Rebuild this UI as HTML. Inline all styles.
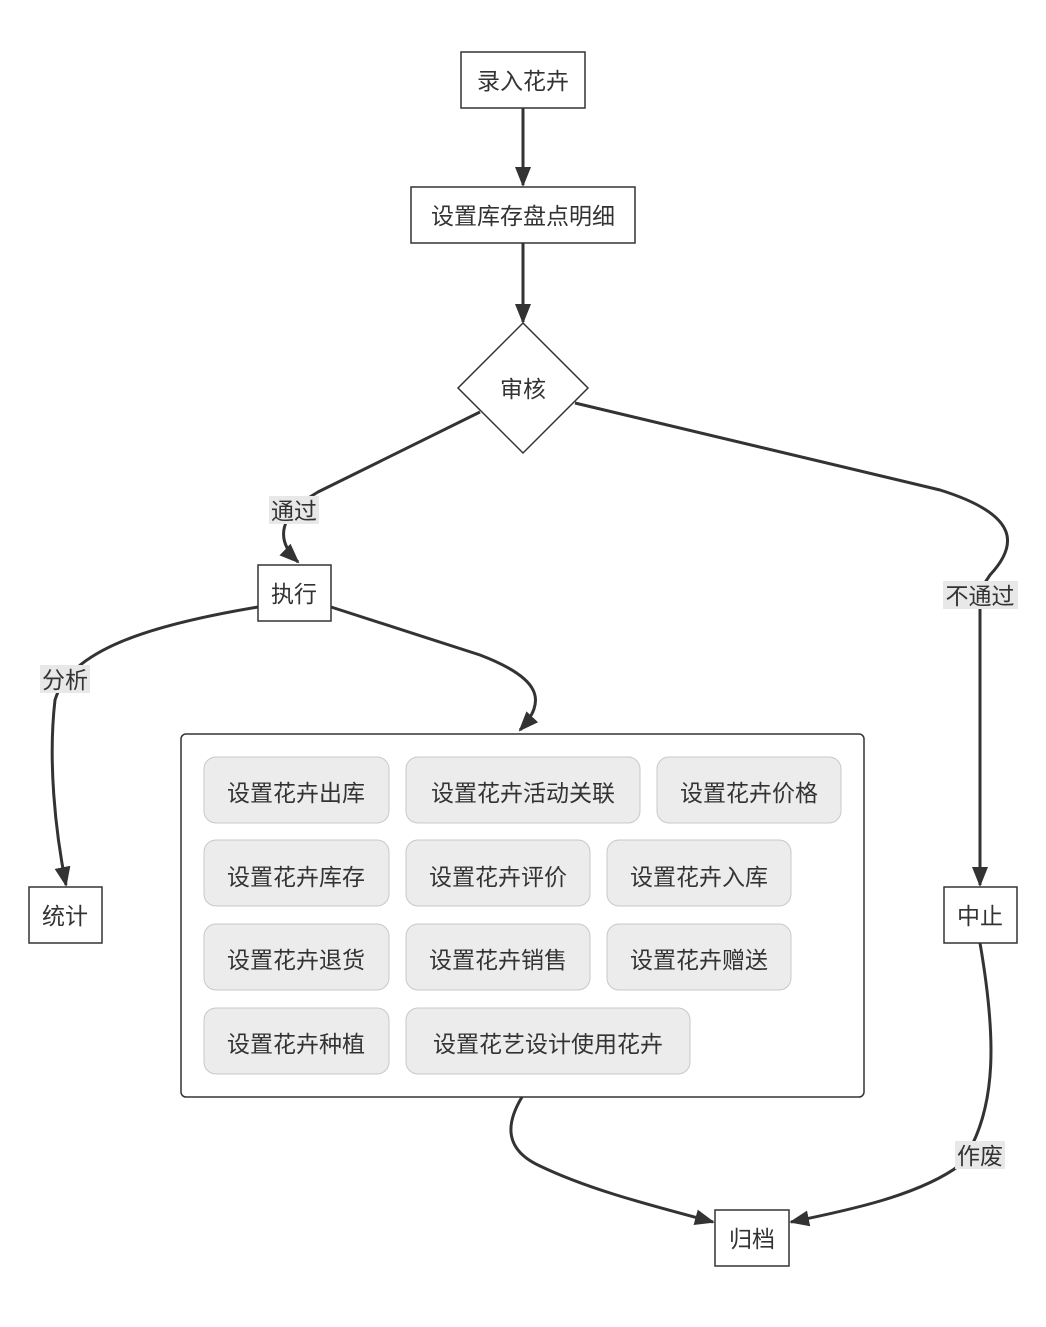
<!DOCTYPE html>
<html><head><meta charset="utf-8"><style>
html,body{margin:0;padding:0;background:#fff;}
svg text{font-family:"Liberation Sans","Noto Sans CJK SC",sans-serif;font-size:23px;fill:#333;}
</style></head><body>
<svg width="1046" height="1322" viewBox="0 0 1046 1322" xmlns="http://www.w3.org/2000/svg">
<defs>
<marker id="a" markerWidth="10" markerHeight="10" refX="9" refY="5" orient="auto" markerUnits="userSpaceOnUse" viewBox="0 0 10 10">
<path d="M0,0 L10,5 L0,10 z" fill="#333"/>
</marker>
<marker id="b" markerWidth="20" markerHeight="20" refX="18" refY="10" orient="auto" markerUnits="userSpaceOnUse" viewBox="0 0 20 20">
<path d="M0,2 L20,10 L0,18 z" fill="#333"/>
</marker>
</defs>
<g fill="none" stroke="#333" stroke-width="3">
<path d="M523,108 L523,185" marker-end="url(#b)"/>
<path d="M523,243 L523,322" marker-end="url(#b)"/>
<path d="M480,412 L318,492 C278,515 275,540 298,562" marker-end="url(#b)"/>
<path d="M575,403 L940,490 C1020,515 1018,545 990,575 L980,590 L980,885" marker-end="url(#b)"/>
<path d="M258,607 C150,625 70,650 55,700 C48,760 55,830 66,885" marker-end="url(#b)"/>
<path d="M331,607 L480,655 C540,678 548,700 520,730" marker-end="url(#b)"/>
<path d="M522,1097 C505,1125 505,1150 540,1166 C590,1190 650,1205 713,1222" marker-end="url(#b)"/>
<path d="M980,943 C995,1030 1000,1110 960,1165 C920,1195 850,1210 791,1222" marker-end="url(#b)"/>
</g>
<g fill="#fff" stroke="#333" stroke-width="1.5">
<rect x="461" y="52" width="124" height="56"/>
<rect x="411" y="187" width="224" height="56"/>
<polygon points="523,323 588,388 523,453 458,388"/>
<rect x="258" y="565" width="73" height="56"/>
<rect x="29" y="887" width="73" height="56"/>
<rect x="944" y="887" width="73" height="56"/>
<rect x="715" y="1210" width="74" height="56"/>
<rect x="181" y="734" width="683" height="363" rx="5"/>
</g>
<g fill="#ececec" stroke="#c8c8c8" stroke-width="1">
<rect x="204" y="757" width="185" height="66" rx="12"/>
<rect x="406" y="757" width="234" height="66" rx="12"/>
<rect x="657" y="757" width="184" height="66" rx="12"/>
<rect x="204" y="840" width="185" height="66" rx="12"/>
<rect x="406" y="840" width="184" height="66" rx="12"/>
<rect x="607" y="840" width="184" height="66" rx="12"/>
<rect x="204" y="924" width="185" height="66" rx="12"/>
<rect x="406" y="924" width="184" height="66" rx="12"/>
<rect x="607" y="924" width="184" height="66" rx="12"/>
<rect x="204" y="1008" width="185" height="66" rx="12"/>
<rect x="406" y="1008" width="284" height="66" rx="12"/>
</g>
<g fill="#e8e8e8">
<rect x="269" y="496" width="50" height="28"/>
<rect x="40" y="665" width="50" height="28"/>
<rect x="943" y="581" width="75" height="28"/>
<rect x="955" y="1141" width="50" height="28"/>
</g>
<g text-anchor="middle">
<text x="523" y="89">录入花卉</text>
<text x="523" y="224">设置库存盘点明细</text>
<text x="523" y="397">审核</text>
<text x="294" y="602">执行</text>
<text x="65" y="924">统计</text>
<text x="980" y="924">中止</text>
<text x="752" y="1247">归档</text>
<text x="294" y="519">通过</text>
<text x="65" y="688">分析</text>
<text x="980" y="604">不通过</text>
<text x="980" y="1164">作废</text>
<text x="296" y="801">设置花卉出库</text>
<text x="523" y="801">设置花卉活动关联</text>
<text x="749" y="801">设置花卉价格</text>
<text x="296" y="885">设置花卉库存</text>
<text x="498" y="885">设置花卉评价</text>
<text x="699" y="885">设置花卉入库</text>
<text x="296" y="968">设置花卉退货</text>
<text x="498" y="968">设置花卉销售</text>
<text x="699" y="968">设置花卉赠送</text>
<text x="296" y="1052">设置花卉种植</text>
<text x="548" y="1052">设置花艺设计使用花卉</text>
</g>
</svg>
</body></html>
